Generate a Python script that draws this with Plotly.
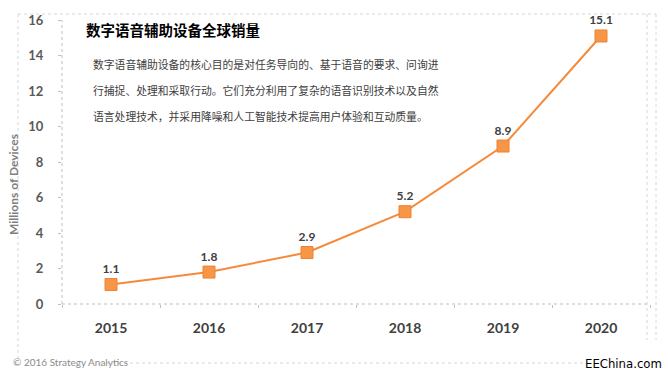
import plotly.graph_objects as go

years = ["2015", "2016", "2017", "2018", "2019", "2020"]
sales = [1.1, 1.8, 2.9, 5.2, 8.9, 15.1]
y_ticks = [0, 2, 4, 6, 8, 10, 12, 14, 16]

title_text = "数字语音辅助设备全球销量"
para_lines = [
    "数字语音辅助设备的核心目的是对任务导向的、基于语音的要求、问询进",
    "行捕捉、处理和采取行动。它们充分利用了复杂的语音识别技术以及自然",
    "语言处理技术，并采用降噪和人工智能技术提高用户体验和互动质量。",
]
y_label = "Millions of Devices"
source_text = "© 2016 Strategy Analytics"
brand_text = "EEChina.com"

W, H = 668, 375
L, R, T, B = 62, 18, 20, 71
PW, PH = W - L - R, H - T - B

def px(x):
    return (x - L) / PW

def py(y):
    return (H - B - y) / PH

CJK = "Noto Sans CJK SC"
LAT = "Lato, Carlito, Liberation Sans, sans-serif"

fig = go.Figure()
fig.add_trace(go.Scatter(
    x=years, y=sales,
    mode="lines+markers+text",
    line=dict(color="#F58A3A", width=2),
    marker=dict(symbol="square", size=12, color="#F79646",
                line=dict(color="#EE8235", width=1)),
    text=[f"{v:.1f}" for v in sales],
    textposition="top center",
    textfont=dict(family=LAT, size=12, color="#404040", weight="bold"),
    cliponaxis=False,
    hoverinfo="skip",
))

fig.update_layout(
    width=W, height=H,
    margin=dict(l=L, r=R, t=T, b=B),
    paper_bgcolor="white", plot_bgcolor="white",
    showlegend=False,
    xaxis=dict(
        type="category", range=[-0.5, 5.5],
        showgrid=False, showline=False, zeroline=False,
        ticks="outside", ticklen=3, tickcolor="#BFBFBF", tickson="boundaries",
        tickfont=dict(family=LAT, size=14, color="#404040", weight="bold"),
        ticklabelstandoff=14,
    ),
    yaxis=dict(
        range=[0, 16], tickvals=y_ticks,
        showgrid=False, showline=False, zeroline=False,
        ticks="outside", ticklen=3, tickcolor="#BFBFBF",
        tickfont=dict(family=LAT, size=13, color="#595959", weight="bold"),
        ticklabelstandoff=12,
    ),
)

# dotted axis lines
fig.add_shape(type="line", xref="paper", yref="paper", x0=0, x1=0, y0=0, y1=1,
              line=dict(color="#BFBFBF", width=1, dash="dot"))
fig.add_shape(type="line", xref="paper", yref="paper", x0=0, x1=1, y0=0, y1=0,
              line=dict(color="#BFBFBF", width=1, dash="dot"))

# dotted frame
frame = dict(color="#D6D6D6", width=1, dash="dot")
fig.add_shape(type="line", xref="paper", yref="paper", x0=px(18), x1=px(656), y0=py(14), y1=py(14), line=frame)
fig.add_shape(type="line", xref="paper", yref="paper", x0=px(18), x1=px(18), y0=py(14), y1=py(363), line=frame)
fig.add_shape(type="line", xref="paper", yref="paper", x0=px(647), x1=px(647), y0=py(14), y1=py(340), line=frame)
fig.add_shape(type="line", xref="paper", yref="paper", x0=px(656), x1=px(656), y0=py(14), y1=py(340), line=frame)
fig.add_shape(type="line", xref="paper", yref="paper", x0=px(100), x1=px(588), y0=py(363), y1=py(363), line=frame)

# title & paragraph
fig.add_annotation(xref="paper", yref="paper", x=px(84), y=py(30), xanchor="left", yanchor="middle",
                   text=f"<b>{title_text}</b>", showarrow=False,
                   font=dict(family=CJK, size=14.5, color="#000000"))
for i, line in enumerate(para_lines):
    fig.add_annotation(xref="paper", yref="paper", x=px(91), y=py(64 + 26 * i),
                       xanchor="left", yanchor="middle", text=line, showarrow=False,
                       font=dict(family=CJK, size=10.8, color="#404040"))

# y axis label
fig.add_annotation(xref="paper", yref="paper", x=px(13), y=py(185), xanchor="center", yanchor="middle",
                   text=f"<b>{y_label}</b>", textangle=-90, showarrow=False,
                   font=dict(family=LAT, size=12, color="#7F7F7F"))

# footer
fig.add_annotation(xref="paper", yref="paper", x=px(11), y=py(362), xanchor="left", yanchor="middle",
                   text=source_text, showarrow=False,
                   font=dict(family=LAT, size=10, color="#8C8C8C"))
fig.add_annotation(xref="paper", yref="paper", x=px(664), y=py(363), xanchor="right", yanchor="middle",
                   text=brand_text, showarrow=False,
                   font=dict(family="Liberation Sans Narrow, DejaVu Sans Condensed, sans-serif", size=13, color="#000000"))

fig.write_html("out.html", config={"displayModeBar": False},
               post_script="document.body.style.margin='0';")
